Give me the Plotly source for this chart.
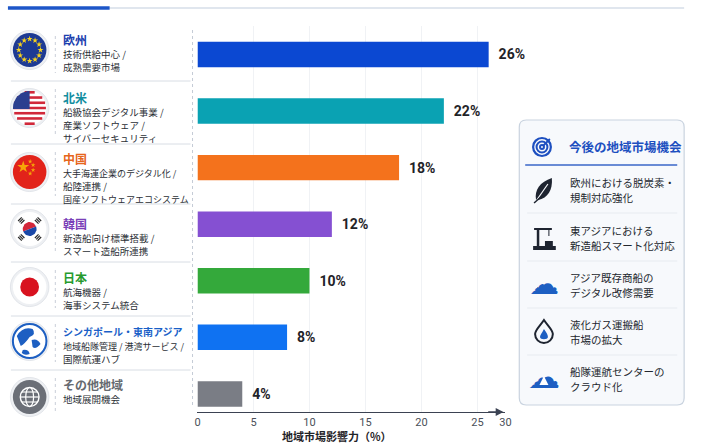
import math
import plotly.graph_objects as go

# data
regions = ["欧州", "北米", "中国", "韓国", "日本", "シンガポール・東南アジア", "その他地域"]
shares = [26, 22, 18, 12, 10, 8, 4]
bar_colors = ["#0b48d2", "#0aa2b3", "#f4721c", "#8550d2", "#34a93b", "#0f72f2", "#7a7d85"]
title_colors = ["#1b3fae", "#138ea0", "#e6661c", "#7a3fb8", "#279a2e", "#1a5fc8", "#666a70"]
region_notes = [
    ["技術供給中心 /", "成熟需要市場"],
    ["船級協会デジタル事業 /", "産業ソフトウェア /", "サイバーセキュリティ"],
    ["大手海運企業のデジタル化 /", "船陸連携 /", "国産ソフトウェアエコシステム"],
    ["新造船向け標準搭載 /", "スマート造船所連携"],
    ["航海機器 /", "海事システム統合"],
    ["地域船隊管理 / 港湾サービス /", "国際航運ハブ"],
    ["地域展開機会"],
]
tick_vals = [0, 5, 10, 15, 20, 25, 27.5]
tick_text = ["0", "5", "10", "15", "20", "25", "30"]
opportunities = [
    ["欧州における脱炭素・", "規制対応強化"],
    ["東アジアにおける", "新造船スマート化対応"],
    ["アジア既存商船の", "デジタル改修需要"],
    ["液化ガス運搬船", "市場の拡大"],
    ["船隊運航センターの", "クラウド化"],
]

W, H = 701, 443
JP = "Noto Sans CJK JP, Noto Sans, sans-serif"
NUM = "Liberation Sans Narrow, Roboto, sans-serif"

fig = go.Figure()

fig.add_trace(go.Bar(
    x=shares, y=regions, orientation="h",
    marker=dict(color=bar_colors, line=dict(width=0)),
    width=0.45,
    text=[f"{v}%" for v in shares], textposition="outside",
    texttemplate="  %{text}",
    textfont=dict(family=NUM, size=14, color="#1f2328", weight="bold"),
    cliponaxis=False, hoverinfo="skip", showlegend=False,
))

shapes = []
annotations = []


def circle(cx, cy, r, fill, line="rgba(0,0,0,0)", lw=0, layer="below"):
    shapes.append(dict(type="circle", xref="x2", yref="y2", x0=cx - r, x1=cx + r,
                       y0=cy - r, y1=cy + r, fillcolor=fill, layer=layer,
                       line=dict(color=line, width=lw)))


def seg(x0, y0, x1, y1, color, w=1, dash="solid", layer="above"):
    shapes.append(dict(type="line", xref="x2", yref="y2", x0=x0, y0=y0, x1=x1, y1=y1,
                       layer=layer, line=dict(color=color, width=w, dash=dash)))


def txt(x, y, s, size, color, bold=False, anchor="left", family=JP):
    annotations.append(dict(xref="x2", yref="y2", x=x, y=y, text=f"<b>{s}</b>" if bold else s,
                            showarrow=False, xanchor=anchor, yanchor="middle",
                            font=dict(family=family, size=size, color=color)))


def poly(xs, ys, color):
    fig.add_trace(go.Scatter(x=xs, y=ys, xaxis="x2", yaxis="y2", mode="lines", fill="toself",
                             fillcolor=color, line=dict(width=0),
                             hoverinfo="skip", showlegend=False))


# header rule
seg(5, 8, 690, 8, "#d6dee8", 1.5)
seg(5, 8, 108, 8, "#1d56c8", 3.5)

# left panel rows
row_flag_y = [50, 108, 172, 229, 287, 341, 397]
row_title_y = [39, 97, 158, 223, 277, 331, 384]
row_bounds = [(28, 81), (81, 144), (144, 204), (204, 262), (262, 316), (316, 370), (370, 420)]
for y in [81, 144, 204, 262, 316, 370]:
    seg(8, y, 190, y, "#d8dde4", 1)
for (t, b) in row_bounds:
    seg(53, t + 8, 53, b - 8, "#c9cfd8", 1, "dot")
for i, name in enumerate(regions):
    txt(59, row_title_y[i], name, 10 if len(name) > 6 else 12, title_colors[i], bold=True)
    for j, line in enumerate(region_notes[i]):
        y0 = row_title_y[i] + 15 + j * 13
        txt(59, y0, line, 9 if len(line) > 12 else 9.5, "#2b2f36")

# flag backgrounds
for fy in row_flag_y:
    circle(27, fy, 19.5, "#eef0f3", "#e2e5ea", 1)

# EU
circle(27, 50, 17, "#1d3a94")
eu_x = [27 + 11 * math.cos(k * math.pi / 6) for k in range(12)]
eu_y = [50 + 11 * math.sin(k * math.pi / 6) for k in range(12)]
fig.add_trace(go.Scatter(x=eu_x, y=eu_y, xaxis="x2", yaxis="y2", mode="markers",
                         marker=dict(symbol="star", size=4.5, color="#f7d21c", line=dict(width=0)),
                         hoverinfo="skip", showlegend=False))

# US
circle(27, 108, 17, "#ffffff")
sx, sy = [], []
for k in range(13):
    if k % 2 == 0:
        yy = 91 + 34 / 13 * (k + 0.5)
        dy = abs(yy - 108)
        hw = math.sqrt(max(16.5 ** 2 - dy ** 2, 0))
        sx += [27 - hw, 27 + hw, None]
        sy += [yy, yy, None]
fig.add_trace(go.Scatter(x=sx, y=sy, xaxis="x2", yaxis="y2", mode="lines",
                         line=dict(color="#d1283a", width=2.6),
                         hoverinfo="skip", showlegend=False))
cx_, cy_ = [27], [109]
for a in range(90, 181, 6):
    ang = math.radians(a)
    cx_.append(27 + 17 * math.cos(ang))
    cy_.append(min(108 - 17 * math.sin(ang), 109))
cx_.append(10.1)
cy_.append(109)
poly(cx_, cy_, "#2b3f8f")

# China
circle(27, 172, 17, "#e2231a")
fig.add_trace(go.Scatter(x=[20.5, 27.5, 30.5, 30.5, 27.5], y=[167, 161.5, 165, 170, 173.5],
                         xaxis="x2", yaxis="y2", mode="markers",
                         marker=dict(symbol="star", size=[9, 3.5, 3.5, 3.5, 3.5], color="#ffde00",
                                     line=dict(width=0)),
                         hoverinfo="skip", showlegend=False))

# Korea
circle(27, 229, 17, "#ffffff")
top_x, top_y, bot_x, bot_y = [], [], [], []
for a in range(0, 181, 10):
    ang = math.radians(a + 20)
    top_x.append(27 + 7 * math.cos(ang))
    top_y.append(229 - 7 * math.sin(ang))
    bot_x.append(27 + 7 * math.cos(ang + math.pi))
    bot_y.append(229 - 7 * math.sin(ang + math.pi))
poly(top_x, top_y, "#d3263a")
poly(bot_x, bot_y, "#1a48a8")
for deg in (45, 135, 225, 315):
    t = math.radians(deg)
    ux, uy = math.cos(t), -math.sin(t)
    px_, py_ = -uy, ux
    for k in (-1, 0, 1):
        mx = 27 + ux * (12 + k * 1.9)
        my = 229 + uy * (12 + k * 1.9)
        seg(mx - px_ * 2.6, my - py_ * 2.6, mx + px_ * 2.6, my + py_ * 2.6, "#2a2a2a", 1.2)

# Japan
circle(27, 287, 17, "#ffffff")
circle(27, 287, 9.5, "#d8121f")

# Singapore / SE Asia globe
circle(27, 341, 17, "#ffffff", "#1d5fc2", 2)
for path in ["M 14,336 Q 20,326 30,329 Q 34,334 27,337 Q 22,344 18,346 Z",
             "M 29,340 Q 35,338 38,344 Q 33,350 30,347 Z",
             "M 20,350 Q 26,349 27,354 Q 22,356 19,353 Z"]:
    shapes.append(dict(type="path", xref="x2", yref="y2", path=path,
                       fillcolor="#1d5fc2", line=dict(width=0)))

# Others globe
circle(27, 397, 17, "#6b6f77")
circle(27, 397, 9.5, "rgba(0,0,0,0)", "#ffffff", 1.4, layer="above")
shapes.append(dict(type="circle", xref="x2", yref="y2", x0=23, x1=31, y0=387.5, y1=406.5,
                   line=dict(color="#ffffff", width=1.2)))
seg(17.5, 397, 36.5, 397, "#ffffff", 1.2)
seg(19, 392, 35, 392, "#ffffff", 1.1)
seg(19, 402, 35, 402, "#ffffff", 1.1)

# chart guide line and arrow
seg(192, 30, 192, 408, "#c5ccd6", 1, "dot")
annotations.append(dict(xref="x2", yref="y2", x=507, y=412, ax=490, ay=412, axref="x2", ayref="y2",
                        showarrow=True, arrowhead=2, arrowsize=1.2, arrowwidth=1.3,
                        arrowcolor="#3b4252", text=""))
txt(338, 436, "地域市場影響力（%）", 11, "#1f2328", bold=True, anchor="center")

# right opportunities box
bx0, by0, bx1, by1, rr = 523, 120, 690, 405, 7
shapes.append(dict(type="path", xref="x2", yref="y2", layer="below",
                   path=(f"M {bx0 + rr},{by0} L {bx1 - rr},{by0} Q {bx1},{by0} {bx1},{by0 + rr} "
                         f"L {bx1},{by1 - rr} Q {bx1},{by1} {bx1 - rr},{by1} L {bx0 + rr},{by1} "
                         f"Q {bx0},{by1} {bx0},{by1 - rr} L {bx0},{by0 + rr} Q {bx0},{by0} {bx0 + rr},{by0} Z"),
                   fillcolor="#f7f9fc", line=dict(color="#c9d3df", width=1.2)))
txt(571, 146, "今後の地域市場機会", 12.5, "#1d4fc0", bold=True)
seg(529, 165, 683, 165, "#3a66c8", 1.3)
for r_, w_ in [(9, 2.2), (5.5, 2), (2, 2)]:
    circle(546, 147, r_, "rgba(0,0,0,0)", "#1d4fc0", w_, layer="above")
seg(547, 146, 554, 139, "#1d4fc0", 1.8)

item_y = [190, 238, 285, 332, 379]
for y in [213, 261, 308, 355]:
    seg(531, y, 683, y, "#e7ebf0", 1)
for i, lines in enumerate(opportunities):
    txt(572, item_y[i] - 7.5, lines[0], 10.5, "#23272e")
    txt(572, item_y[i] + 7.5, lines[1], 10.5, "#23272e")

ink = "#1e2430"
blue = "#1d5fc2"
# leaf
shapes.append(dict(type="path", xref="x2", yref="y2",
                   path="M 540,200 C 538,190 544,182 556,178 C 557,190 552,198 542,200 Z",
                   fillcolor=ink, line=dict(width=0)))
seg(540, 201, 552, 184, "#f7f9fc", 1.2)
seg(538, 203, 546, 196, ink, 1.5)
# shipyard crane
seg(542, 228, 542, 248, ink, 2.5)
seg(538, 229, 556, 229, ink, 2)
seg(553, 229, 553, 236, ink, 1)
shapes.append(dict(type="rect", xref="x2", yref="y2", x0=537, x1=560, y0=246, y1=250,
                   fillcolor=ink, line=dict(width=0)))
shapes.append(dict(type="rect", xref="x2", yref="y2", x0=549, x1=557, y0=241, y1=246,
                   fillcolor=ink, line=dict(width=0)))
# cloud with ship
txt(548, item_y[2] - 2, "☁", 30, blue, anchor="center", family="DejaVu Sans")
shapes.append(dict(type="path", xref="x2", yref="y2",
                   path="M 541,288 L 555,288 L 552,293 L 544,293 Z", fillcolor="#f7f9fc",
                   line=dict(color=ink, width=1)))
# drop with flame
shapes.append(dict(type="path", xref="x2", yref="y2",
                   path="M 548,320 C 552,326 557,330 557,334 C 557,339 553,343 548,343 "
                        "C 543,343 539,339 539,334 C 539,330 544,326 548,320 Z",
                   fillcolor="rgba(0,0,0,0)", line=dict(color=ink, width=2)))
shapes.append(dict(type="path", xref="x2", yref="y2",
                   path="M 548,329 C 551,333 552,335 552,337 C 552,340 544,340 544,337 C 544,335 546,333 548,329 Z",
                   fillcolor=blue, line=dict(width=0)))
# cloud upload
txt(548, item_y[4] - 2, "☁", 32, blue, anchor="center", family="DejaVu Sans")
seg(548, 389, 548, 378, "#ffffff", 2)
annotations.append(dict(xref="x2", yref="y2", x=548, y=376, ax=548, ay=384, axref="x2", ayref="y2",
                        showarrow=True, arrowhead=2, arrowwidth=1.8, arrowcolor="#ffffff", text=""))

fig.update_layout(
    width=W, height=H,
    margin=dict(l=0, r=0, t=0, b=0),
    paper_bgcolor="#ffffff", plot_bgcolor="rgba(0,0,0,0)",
    xaxis=dict(domain=[197 / W, 509 / W], range=[0, 27.5], tickvals=tick_vals, ticktext=tick_text,
               showgrid=True, gridcolor="#f0f2f5", zeroline=False,
               showline=True, linecolor="#3b4252", linewidth=1.2,
               ticks="", tickfont=dict(family=NUM, size=11, color="#4a4f58"),
               fixedrange=True),
    yaxis=dict(domain=[1 - 412 / H, 1 - 26.2 / H], range=[6.32, -0.5], showticklabels=False,
               showgrid=False, zeroline=False, ticks="", fixedrange=True),
    xaxis2=dict(domain=[0, 1], range=[0, W], visible=False, fixedrange=True, anchor="y2"),
    yaxis2=dict(domain=[0, 1], range=[H, 0], visible=False, fixedrange=True, anchor="x2"),
    shapes=shapes,
    annotations=annotations,
)

fig.write_html("out.html", config={"displayModeBar": False},
               post_script="document.body.style.margin='0';document.body.style.overflow='hidden';")
